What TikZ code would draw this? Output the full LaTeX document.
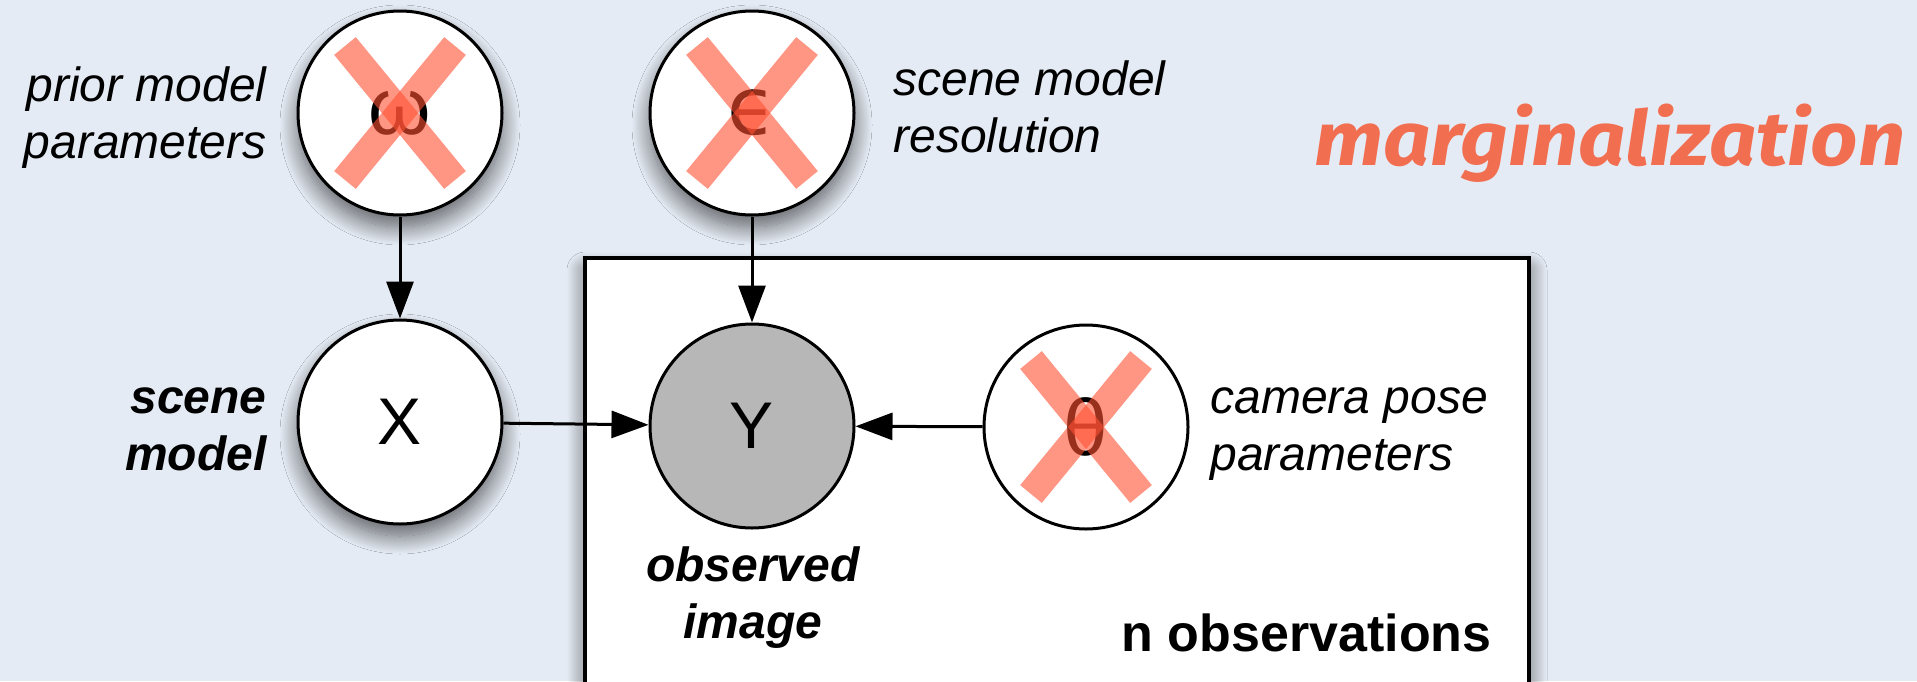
\documentclass[tikz,border=0pt]{standalone}
\usepackage{fontspec}
\setmainfont{Liberation Sans}
\newfontfamily\dejavu{DejaVu Sans}
\newfontfamily\fira{Fira Sans}
\usetikzlibrary{arrows.meta,shadows.blur}
\definecolor{bgcol}{RGB}{229,235,244}
\definecolor{crosscol}{RGB}{255,80,50}
\definecolor{margcol}{RGB}{242,110,80}
\definecolor{obsfill}{RGB}{183,183,183}
\begin{document}
\begin{tikzpicture}[x=0.5pt,y=-0.5pt,
  var/.style={circle, draw=black, line width=1.5pt, fill=white, minimum size=102pt, inner sep=0pt, font=\fontsize{33}{33}\selectfont},
  greek/.style={font=\fontsize{40}{40}\selectfont},
  shadowed/.style={blur shadow={shadow xshift=0pt, shadow yshift=-6pt, shadow blur radius=9pt, shadow blur steps=24, shadow opacity=60}},
  edge/.style={line width=1.5pt, -{Triangle[length=18.5pt,width=13.5pt]}},
  cross/.style={line width=14pt, draw=crosscol, draw opacity=0.6, line cap=butt},
  lbl/.style={inner sep=0pt, font=\fontsize{24}{28.5}\selectfont\itshape},
  blbl/.style={inner sep=0pt, font=\fontsize{24}{28.5}\selectfont\bfseries\itshape},
  plate/.style={draw=black, fill=white, line width=2pt, inner sep=0pt, anchor=north west}
]
\useasboundingbox (0,0) rectangle (1917,681);
\clip (0,0) rectangle (1917,681);
\fill[bgcol] (0,0) rectangle (1917,681);

% plate
\node[plate, shadowed, minimum width=472pt, minimum height=222pt] (plate) at (583,256) {};

% variables
\node[var, greek, shadowed] (om) at (400,113) {ω};
\node[var, greek, shadowed] (ep) at (752,113) {\dejavu ϵ};
\node[var, shadowed] (X) at (400,422) {X};
\node[var, fill=obsfill] (Y) at (752,426) {Y};
\node[var, greek] (th) at (1086,427) {θ};

% crosses
\foreach \n in {om,ep,th}{
  \draw[cross] ([shift={(-55,-67)}]\n.center) -- ([shift={(55,67)}]\n.center);
  \draw[cross] ([shift={(55,-67)}]\n.center) -- ([shift={(-55,67)}]\n.center);
}

% edges
\draw[edge] (om) -- (X);
\draw[edge] (ep) -- (Y);
\draw[edge] (X) -- (Y);
\draw[edge] (th) -- (Y);

% labels
\node[lbl, anchor=base east] (lprior) at (267,158) {\begin{tabular}[b]{@{}r@{}}prior model\\parameters\end{tabular}};
\node[lbl, anchor=base west] (lres) at (893,152) {\begin{tabular}[b]{@{}l@{}}scene model\\resolution\end{tabular}};
\node[blbl, anchor=base east] (lscene) at (267,470) {\begin{tabular}[b]{@{}r@{}}scene\\model\end{tabular}};
\node[lbl, anchor=base west] (lcam) at (1210,470) {\begin{tabular}[b]{@{}l@{}}camera pose\\parameters\end{tabular}};
\node[blbl, anchor=base] (lobs) at (753,638) {\begin{tabular}[b]{@{}c@{}}observed\\image\end{tabular}};
\node[inner sep=0pt, anchor=base east, font=\fontsize{26}{30}\selectfont\bfseries] (lnobs) at (1492,651) {n observations};
\node[inner sep=0pt, anchor=base west, text=margcol, font=\fontsize{38}{40}\fira\bfseries\itshape] (lmarg) at (1314,165) {\scalebox{1.09}[1]{marginalization}};
\end{tikzpicture}
\end{document}
